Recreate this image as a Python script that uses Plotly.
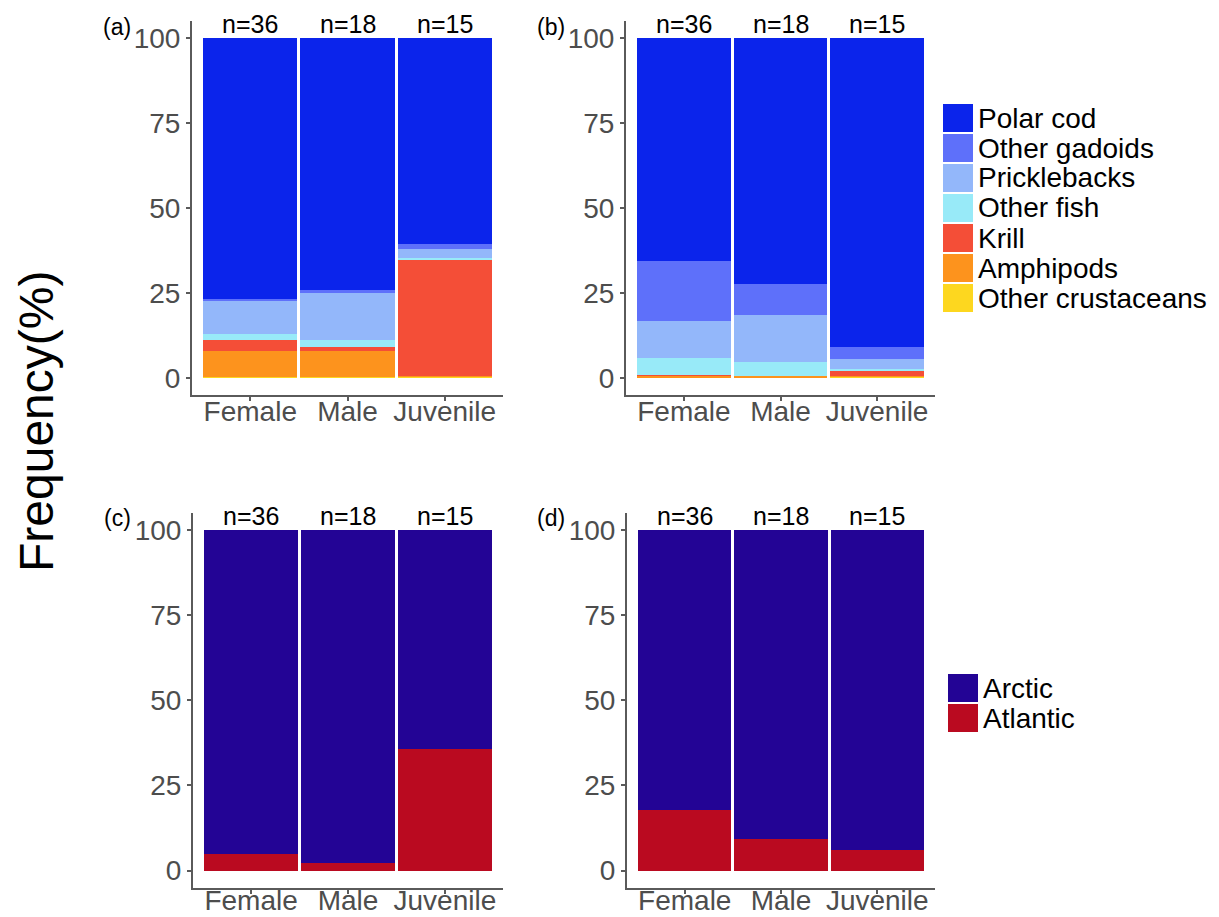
import plotly.graph_objects as go

# ---------------- data ----------------
categories = ["Female", "Male", "Juvenile"]
n_labels = ["n=36", "n=18", "n=15"]

prey_groups = ["Polar cod", "Other gadoids", "Pricklebacks", "Other fish",
               "Krill", "Amphipods", "Other crustaceans"]

# panel (a): % per prey group, for Female, Male, Juvenile
a_polar_cod = [76.7, 74.0, 60.5]
a_other_gadoids = [0.6, 1.1, 1.6]
a_pricklebacks = [9.8, 13.6, 2.5]
a_other_fish = [1.6, 2.3, 0.6]
a_krill = [3.5, 1.2, 34.1]
a_amphipods = [7.4, 7.6, 0.2]
a_other_crustaceans = [0.4, 0.2, 0.5]

# panel (b)
b_polar_cod = [65.7, 72.4, 91.0]
b_other_gadoids = [17.4, 9.1, 3.4]
b_pricklebacks = [11.0, 13.9, 3.0]
b_other_fish = [4.9, 4.1, 0.4]
b_krill = [0.3, 0.0, 1.5]
b_amphipods = [0.5, 0.5, 0.4]
b_other_crustaceans = [0.2, 0.0, 0.3]

origin_groups = ["Arctic", "Atlantic"]
# panel (c)
c_arctic = [95.0, 97.8, 64.2]
c_atlantic = [5.0, 2.2, 35.8]
# panel (d)
d_arctic = [82.2, 90.6, 94.1]
d_atlantic = [17.8, 9.4, 5.9]

y_ticks = [0, 25, 50, 75, 100]
panel_tags = ["(a)", "(b)", "(c)", "(d)"]

# ---------------- styles ----------------
prey_colors = ["#0B24EB", "#5E70FA", "#93B7FA", "#98EAF8",
               "#F44E37", "#FD931D", "#FDD71F"]
origin_colors = ["#230495", "#BA0A20"]

W, H = 1219, 917
FONT = "Arial, Liberation Sans, sans-serif"
AX_COLOR = "#5a5a5a"
TICK_COLOR = "#4D4D4D"


def px_x(p):
    return p / W


def px_y(p):
    return 1 - p / H


fig = go.Figure()

panel_a = [a_polar_cod, a_other_gadoids, a_pricklebacks, a_other_fish,
           a_krill, a_amphipods, a_other_crustaceans]
panel_b = [b_polar_cod, b_other_gadoids, b_pricklebacks, b_other_fish,
           b_krill, b_amphipods, b_other_crustaceans]
panel_c = [c_arctic, c_atlantic]
panel_d = [d_arctic, d_atlantic]

axes_ids = [("x", "y"), ("x2", "y2"), ("x3", "y3"), ("x4", "y4")]


def add_stack(panel, names, colors, xa, ya):
    # bottom of the stack is the last group -> add in reverse order
    for vals, name, col in reversed(list(zip(panel, names, colors))):
        fig.add_trace(go.Bar(
            x=categories, y=vals, name=name, xaxis=xa, yaxis=ya,
            marker=dict(color=col, line=dict(width=0)),
            showlegend=False,
            hovertemplate=name + ": %{y}%<extra>%{x}</extra>",
        ))


add_stack(panel_a, prey_groups, prey_colors, "x", "y")
add_stack(panel_b, prey_groups, prey_colors, "x2", "y2")
add_stack(panel_c, origin_groups, origin_colors, "x3", "y3")
add_stack(panel_d, origin_groups, origin_colors, "x4", "y4")

x_domains = [[px_x(192), px_x(503)], [px_x(626), px_x(935)],
             [px_x(193), px_x(503)], [px_x(627), px_x(935)]]
y_top = [px_y(395), px_y(21)]
y_bot = [px_y(887.6), px_y(513)]
y_domains = [y_top, y_top, y_bot, y_bot]
x_standoff = [-14, -14, -17, -17]

layout = dict(
    width=W, height=H, autosize=False,
    margin=dict(l=0, r=0, t=0, b=0, pad=0),
    paper_bgcolor="white", plot_bgcolor="white",
    barmode="stack", bargap=0.03,
    font=dict(family=FONT, color="black"),
    showlegend=False,
)

for i, (xa, ya) in enumerate(axes_ids):
    xk = "xaxis" if i == 0 else f"xaxis{i+1}"
    yk = "yaxis" if i == 0 else f"yaxis{i+1}"
    layout[xk] = dict(
        domain=x_domains[i], anchor=ya, type="category",
        categoryorder="array", categoryarray=categories,
        range=[-0.6, 2.6], showgrid=False, zeroline=False, automargin=False,
        showline=True, linecolor=AX_COLOR, linewidth=2,
        ticks="outside", ticklen=4, tickwidth=1.5, tickcolor=AX_COLOR,
        ticklabelstandoff=x_standoff[i],
        tickfont=dict(size=28, color=TICK_COLOR, family=FONT),
        fixedrange=True,
    )
    layout[yk] = dict(
        domain=y_domains[i], anchor=xa, range=[-5, 105],
        tickvals=y_ticks, ticktext=[str(t) for t in y_ticks],
        showgrid=False, zeroline=False, automargin=False,
        showline=True, linecolor=AX_COLOR, linewidth=2,
        ticks="outside", ticklen=4, tickwidth=1.5, tickcolor=AX_COLOR,
        tickfont=dict(size=28, color=TICK_COLOR, family=FONT),
        fixedrange=True,
    )

fig.update_layout(**layout)

annotations = []
# n labels above bars
for xa, ya in axes_ids:
    for cat, lab in zip(categories, n_labels):
        annotations.append(dict(
            x=cat, y=104.2, xref=xa, yref=ya, text=lab, showarrow=False,
            xanchor="center", yanchor="middle",
            font=dict(size=25, color="black", family=FONT),
        ))

# panel tags
tag_pos = [(117, 27), (551, 27), (117, 518), (551, 518)]
for tag, (tx, ty) in zip(panel_tags, tag_pos):
    annotations.append(dict(
        x=px_x(tx), y=px_y(ty), xref="paper", yref="paper", text=tag,
        showarrow=False, xanchor="center", yanchor="middle",
        font=dict(size=23, color="black", family=FONT),
    ))

# shared y title
annotations.append(dict(
    x=px_x(36), y=px_y(422), xref="paper", yref="paper",
    text="Frequency(%)", textangle=-90, showarrow=False,
    xanchor="center", yanchor="middle",
    font=dict(size=48, color="black", family=FONT),
))

shapes = []


def add_legend(names, colors, x0, top, row_h, text_x):
    for i, (name, col) in enumerate(zip(names, colors)):
        y0 = top + i * row_h
        shapes.append(dict(
            type="rect", xref="paper", yref="paper",
            x0=px_x(x0), x1=px_x(x0 + 30),
            y0=px_y(y0 + 1), y1=px_y(y0 + row_h - 1),
            fillcolor=col, line=dict(width=0), layer="above",
        ))
        annotations.append(dict(
            x=px_x(text_x), y=px_y(y0 + row_h / 2), xref="paper", yref="paper",
            text=name, showarrow=False, xanchor="left", yanchor="middle",
            font=dict(size=28, color="black", family=FONT),
        ))


add_legend(prey_groups, prey_colors, 943, 103, 30, 976)
add_legend(origin_groups, origin_colors, 948, 673, 30, 981)

fig.update_layout(annotations=annotations, shapes=shapes)

fig.write_html("out.html", config={"displayModeBar": False})
